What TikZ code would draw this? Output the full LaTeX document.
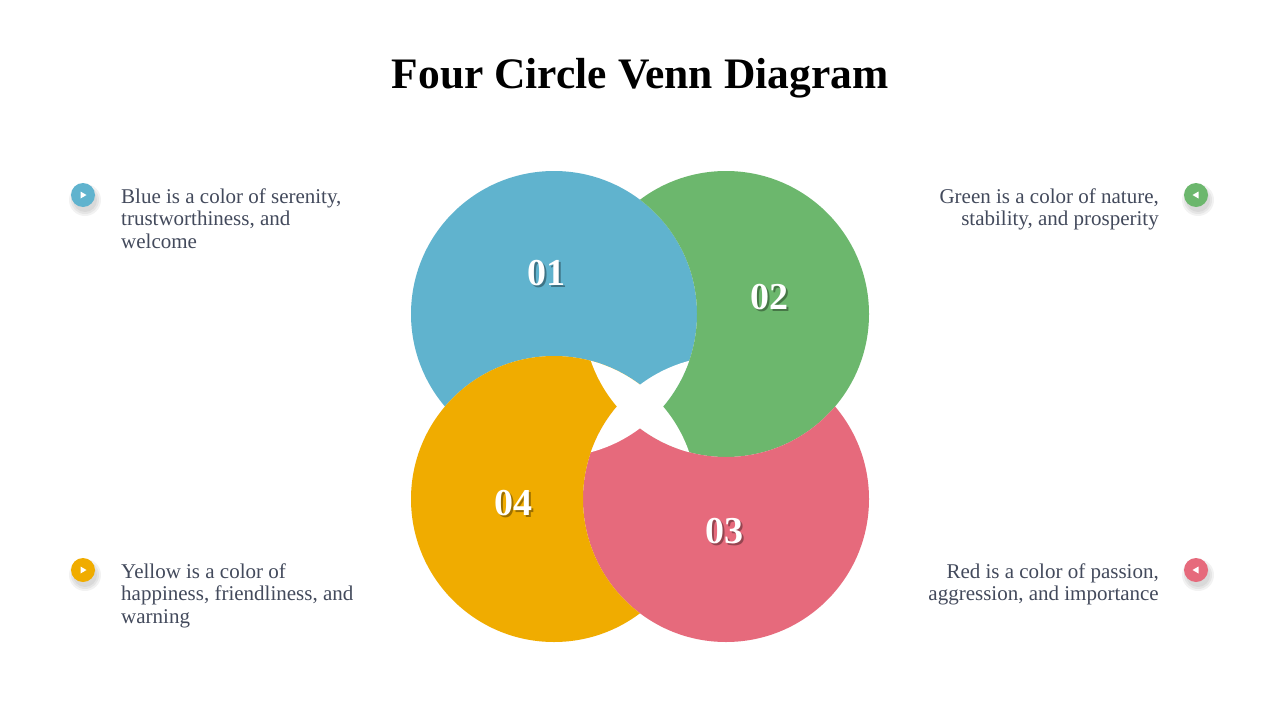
\documentclass[tikz,border=0pt]{standalone}
\usepackage{fontspec}
\setmainfont{Liberation Serif}
\usetikzlibrary{positioning}
\definecolor{vennblue}{HTML}{60B3CE}
\definecolor{venngreen}{HTML}{6CB76D}
\definecolor{vennyellow}{HTML}{F0AC00}
\definecolor{vennred}{HTML}{E66A7C}
\definecolor{venntext}{HTML}{434A5C}

\begin{document}
\begin{tikzpicture}[x=1pt, y=-1pt,
  every node/.style={font=\fontsize{21}{22.5}\selectfont, text=venntext, inner sep=0pt},
  num/.style={font=\fontsize{38}{38}\selectfont\bfseries, text=white},
  numshadow/.style={font=\fontsize{38}{38}\selectfont\bfseries, text=black, opacity=0.35},
  dot/.style={circle, minimum size=24pt}]
  \useasboundingbox (0,0) rectangle (1280,720);
  \fill[white] (0,0) rectangle (1280,720);
  \node (title) at (640,78) {\fontsize{43.5}{44}\selectfont\bfseries\color{black}Four Circle Venn Diagram};
  % circle centres
  \coordinate (cb) at (554,314);
  \coordinate (cg) at (726,314);
  \coordinate (cr) at (726,499);
  \coordinate (cy) at (554,499);
  % each circle minus the next one
  \begin{scope}
    \clip (cb) circle (143);
    \fill[vennblue, even odd rule] (0,0) rectangle (1280,720) (cy) circle (143);
  \end{scope}
  \begin{scope}
    \clip (cg) circle (143);
    \fill[venngreen, even odd rule] (0,0) rectangle (1280,720) (cb) circle (143);
  \end{scope}
  \begin{scope}
    \clip (cr) circle (143);
    \fill[vennred, even odd rule] (0,0) rectangle (1280,720) (cg) circle (143);
  \end{scope}
  \begin{scope}
    \clip (cy) circle (143);
    \fill[vennyellow, even odd rule] (0,0) rectangle (1280,720) (cr) circle (143);
  \end{scope}
  % white star where three circles meet
  \begin{scope}
    \clip (cb) circle (143);
    \clip (cg) circle (143);
    \fill[white] (cy) circle (143) (cr) circle (143);
  \end{scope}
  \begin{scope}
    \clip (cy) circle (143);
    \clip (cr) circle (143);
    \fill[white] (cb) circle (143) (cg) circle (143);
  \end{scope}
  \node[numshadow] (n1s) at (548,275) {01};
  \node[num] (n1) at (546,273) {01};
  \node[numshadow] (n2s) at (771,299) {02};
  \node[num] (n2) at (769,297) {02};
  \node[numshadow] (n3s) at (726,533) {03};
  \node[num] (n3) at (724,531) {03};
  \node[numshadow] (n4s) at (515,505) {04};
  \node[num] (n4) at (513,503) {04};
  % bullets
  \foreach \x/\y/\c/\n in {83/195/vennblue/b1, 1196/195/venngreen/b2, 1196/570/vennred/b3, 83/570/vennyellow/b4}{
    \foreach \r in {12,14,16}
      \fill[black, opacity=0.05] (\x+2,\y+5) circle (\r);
    \node[dot, fill=\c] (\n) at (\x,\y) {};
  }
  \fill[white] ([shift={(-2.5,-3.5)}]b1.center) -- ([shift={(-2.5,3.5)}]b1.center) -- ([shift={(3.5,0)}]b1.center) -- cycle;
  \fill[white] ([shift={(-2.5,-3.5)}]b4.center) -- ([shift={(-2.5,3.5)}]b4.center) -- ([shift={(3.5,0)}]b4.center) -- cycle;
  \fill[white] ([shift={(2.5,-3.5)}]b2.center) -- ([shift={(2.5,3.5)}]b2.center) -- ([shift={(-3.5,0)}]b2.center) -- cycle;
  \fill[white] ([shift={(2.5,-3.5)}]b3.center) -- ([shift={(2.5,3.5)}]b3.center) -- ([shift={(-3.5,0)}]b3.center) -- cycle;
  % texts
  \node[anchor=base west, align=left] (t1) at (121,248) {Blue is a color of serenity,\\trustworthiness, and\\welcome};
  \node[anchor=base east, align=right] (t2) at (1159,225.5) {Green is a color of nature,\\stability, and prosperity};
  \node[anchor=base east, align=right] (t3) at (1159,600.5) {Red is a color of passion,\\aggression, and importance};
  \node[anchor=base west, align=left] (t4) at (121,623) {Yellow is a color of\\happiness, friendliness, and\\warning};
\end{tikzpicture}
\end{document}
